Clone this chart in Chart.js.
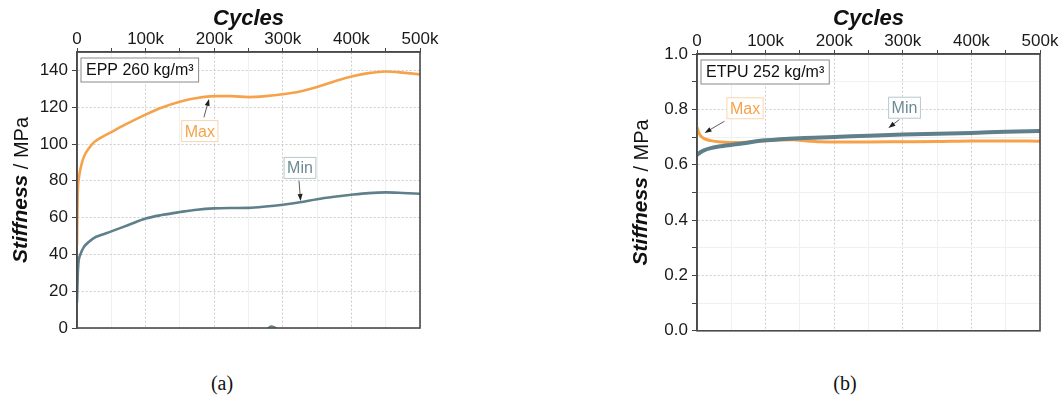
<!DOCTYPE html>
<html>
<head>
<meta charset="utf-8">
<script src="https://cdn.jsdelivr.net/npm/chart.js@4.4.1/dist/chart.umd.min.js"></script>
<style>
  body { margin: 0; background: #fff; width: 1063px; height: 400px; position: relative; overflow: hidden; }
  .box { position: absolute; top: 0; height: 345px; }
  #boxA { left: 0; width: 450px; }
  #boxB { left: 620px; width: 443px; }
  .cap { position: absolute; top: 372px; font: 20px "Liberation Serif", "Times New Roman", serif; color: #111; transform: translateX(-50%); }
</style>
</head>
<body>
<div class="box" id="boxA"><canvas id="chartA"></canvas></div>
<div class="box" id="boxB"><canvas id="chartB"></canvas></div>
<div class="cap" style="left:222px">(a)</div>
<div class="cap" style="left:845px">(b)</div>

<script>
// ------------------ DATA ------------------
// (a) EPP 260 kg/m³
const maxA_cycles = [0, 1000, 3000, 6000, 10000, 18000, 25000, 35000, 50000, 70000, 100000, 125000, 150000, 175000, 200000, 225000, 250000, 275000, 300000, 325000, 350000, 375000, 400000, 425000, 450000, 475000, 500000];
const maxA_stiff  = [45, 72, 82, 88, 93, 98, 101, 103.5, 106.5, 110.5, 116, 120, 123, 125, 126, 126, 125.5, 126, 127, 128.5, 131, 134, 136.7, 138.5, 139.4, 138.8, 137.8];
const minA_cycles = [0, 1000, 2000, 5000, 10000, 18000, 25000, 35000, 50000, 75000, 100000, 125000, 150000, 175000, 200000, 225000, 250000, 275000, 300000, 325000, 350000, 375000, 400000, 425000, 450000, 475000, 500000];
const minA_stiff  = [14, 28, 35, 40, 44, 47, 49, 50.5, 52.5, 56, 59.5, 61.5, 63, 64.3, 65, 65.2, 65.3, 66, 67, 68.3, 70, 71.3, 72.4, 73.3, 73.7, 73.4, 73];
const blipA_cycles = [279000, 283000, 290000];
const blipA_stiff  = [0, 1, 0];

// (b) ETPU 252 kg/m³
const maxB_cycles = [0, 2000, 5000, 10000, 20000, 35000, 60000, 100000, 140000, 160000, 180000, 200000, 250000, 300000, 350000, 400000, 450000, 500000];
const maxB_stiff  = [0.735, 0.72, 0.705, 0.695, 0.687, 0.682, 0.680, 0.687, 0.690, 0.686, 0.683, 0.682, 0.682, 0.683, 0.684, 0.686, 0.686, 0.685];
const minB_cycles = [0, 5000, 10000, 20000, 35000, 60000, 100000, 150000, 200000, 250000, 300000, 350000, 400000, 450000, 500000];
const minB_stiff  = [0.635, 0.645, 0.652, 0.66, 0.667, 0.675, 0.688, 0.696, 0.700, 0.705, 0.709, 0.712, 0.715, 0.719, 0.722];

const xTicks = [0, 100000, 200000, 300000, 400000, 500000];
const ORANGE = '#F6A24A';
const SLATE = '#5F808B';

const pts = (xs, ys) => xs.map((x, i) => ({ x: x, y: ys[i] }));

// ------------------ PLUGINS ------------------
const framePlugin = {
    id: 'frame',
    afterDraw(chart) {
        const { ctx, chartArea: a } = chart;
        ctx.save();
        ctx.strokeStyle = '#4a4a4a';
        ctx.lineWidth = 1.6;
        ctx.strokeRect(a.left, a.top, a.right - a.left, a.bottom - a.top);
        ctx.restore();
    }
};

const yTitlePlugin = {
    id: 'ytitle',
    afterDraw(chart) {
        const { ctx, chartArea: a } = chart;
        const cy = (a.top + a.bottom) / 2;
        const bold = 'italic bold 21px "Liberation Sans", Arial, sans-serif';
        const reg = '20px "Liberation Sans", Arial, sans-serif';
        ctx.save();
        ctx.translate(chart.options.yTitleX, cy);
        ctx.rotate(-Math.PI / 2);
        ctx.font = bold;
        const w1 = ctx.measureText('Stiffness').width;
        ctx.font = reg;
        const w2 = ctx.measureText(' / MPa').width;
        let x = -(w1 + w2) / 2;
        ctx.fillStyle = '#111';
        ctx.textBaseline = 'middle';
        ctx.font = bold;
        ctx.fillText('Stiffness', x, 0);
        ctx.font = reg;
        ctx.fillText(' / MPa', x + w1, 1);
        ctx.restore();
    }
};

function arrow(ctx, x1, y1, x2, y2) {
    const ang = Math.atan2(y2 - y1, x2 - x1);
    ctx.save();
    ctx.strokeStyle = '#333';
    ctx.fillStyle = '#222';
    ctx.lineWidth = 0.8;
    ctx.beginPath();
    ctx.moveTo(x1, y1);
    ctx.lineTo(x2 - 4 * Math.cos(ang), y2 - 4 * Math.sin(ang));
    ctx.stroke();
    ctx.beginPath();
    ctx.moveTo(x2, y2);
    ctx.lineTo(x2 - 7 * Math.cos(ang) + 2.5 * Math.sin(ang), y2 - 7 * Math.sin(ang) - 2.5 * Math.cos(ang));
    ctx.lineTo(x2 - 7 * Math.cos(ang) - 2.5 * Math.sin(ang), y2 - 7 * Math.sin(ang) + 2.5 * Math.cos(ang));
    ctx.closePath();
    ctx.fill();
    ctx.restore();
}

function textBox(ctx, text, cx, cy, color, border, font, padX, h) {
    ctx.save();
    ctx.font = font;
    const w = ctx.measureText(text).width + padX * 2;
    ctx.fillStyle = '#fff';
    ctx.fillRect(cx - w / 2, cy - h / 2, w, h);
    ctx.strokeStyle = border;
    ctx.lineWidth = 1;
    ctx.strokeRect(cx - w / 2, cy - h / 2, w, h);
    ctx.fillStyle = color;
    ctx.textAlign = 'center';
    ctx.textBaseline = 'middle';
    ctx.fillText(text, cx, cy + 1);
    ctx.restore();
}

const notePlugin = {
    id: 'notes',
    afterDraw(chart) {
        const { ctx, chartArea: a, scales: { x, y } } = chart;
        const n = chart.options.notes;
        const sans = '"Liberation Sans", Arial, sans-serif';
        // material label, top-left
        ctx.save();
        ctx.font = '16px ' + sans;
        const w = ctx.measureText(n.label).width + 10;
        ctx.fillStyle = '#fff';
        ctx.fillRect(a.left + 4, a.top + 6, w, 24);
        ctx.strokeStyle = '#8a8a8a';
        ctx.lineWidth = 1;
        ctx.strokeRect(a.left + 4, a.top + 6, w, 24);
        ctx.fillStyle = '#111';
        ctx.textBaseline = 'middle';
        ctx.fillText(n.label, a.left + 9, a.top + 19);
        ctx.restore();
        // Max / Min callouts
        n.callouts.forEach(c => {
            arrow(ctx, x.getPixelForValue(c.from[0]), y.getPixelForValue(c.from[1]),
                       x.getPixelForValue(c.to[0]), y.getPixelForValue(c.to[1]));
            textBox(ctx, c.text, x.getPixelForValue(c.at[0]), y.getPixelForValue(c.at[1]),
                    c.color, c.border, '16px ' + sans, 3, 21);
        });
    }
};

// ------------------ CHART ------------------
function makeChart(id, cfg) {
    const sans = '"Liberation Sans", Arial, sans-serif';
    return new Chart(document.getElementById(id), {
        type: 'line',
        data: { datasets: cfg.datasets },
        options: {
            responsive: true,
            maintainAspectRatio: false,
            animation: false,
            parsing: false,
            layout: { padding: cfg.padding },
            yTitleX: 21,
            notes: cfg.notes,
            plugins: { legend: { display: false }, tooltip: { enabled: false } },
            elements: { point: { radius: 0 }, line: { cubicInterpolationMode: 'monotone', borderJoinStyle: 'round', borderCapStyle: 'round' } },
            scales: {
                x: {
                    type: 'linear',
                    position: 'top',
                    min: 0,
                    max: 500000,
                    afterBuildTicks: s => { s.ticks = []; for (let v = 0; v <= 500000; v += 50000) s.ticks.push({ value: v }); },
                    ticks: {
                        autoSkip: false,
                        maxRotation: 0,
                        padding: -2,
                        color: '#1a1a1a',
                        font: { family: sans, size: 17 },
                        callback: v => xTicks.includes(v) ? (v === 0 ? '0' : (v / 1000) + 'k') : ''
                    },
                    grid: {
                        color: c => (c.tick && xTicks.includes(c.tick.value)) ? '#cdcdcd' : '#f0f0f0',
                        tickColor: '#444',
                        tickLength: 4
                    },
                    border: { display: true, color: '#4a4a4a', width: 1.6,
                              dash: c => (c.tick && xTicks.includes(c.tick.value)) ? [2, 2] : [] },
                    title: { display: true, text: 'Cycles', color: '#111',
                             font: { family: sans, size: 22, weight: 'bold', style: 'italic' },
                             padding: { top: 6, bottom: 0 } },
                    afterFit: s => { s.height = cfg.top; }
                },
                y: {
                    min: 0,
                    max: cfg.yMax,
                    ticks: {
                        stepSize: cfg.yStep,
                        padding: 4,
                        color: '#1a1a1a',
                        font: { family: sans, size: 17 },
                        callback: cfg.yLabel
                    },
                    grid: {
                        color: c => (c.tick && cfg.yMajor(c.tick.value)) ? '#cdcdcd' : '#f0f0f0',
                        tickColor: '#444',
                        tickLength: 5
                    },
                    border: { display: true, color: '#4a4a4a', width: 1.6,
                              dash: c => (c.tick && cfg.yMajor(c.tick.value)) ? [2, 2] : [] },
                    afterFit: s => { s.width = 77; }
                }
            }
        },
        plugins: [framePlugin, yTitlePlugin, notePlugin]
    });
}

makeChart('chartA', {
    top: 52,
    padding: { left: 0, right: 30, top: 0, bottom: 17 },
    yMax: 150,
    yStep: 10,
    yMajor: v => v % 20 === 0,
    yLabel: v => v % 20 === 0 ? String(v) : '',
    datasets: [
        { data: pts(minA_cycles, minA_stiff), borderColor: SLATE, borderWidth: 2.6 },
        { data: pts(blipA_cycles, blipA_stiff), borderColor: SLATE, borderWidth: 2 },
        { data: pts(maxA_cycles, maxA_stiff), borderColor: ORANGE, borderWidth: 2.6 }
    ],
    notes: {
        label: 'EPP 260 kg/m³',
        callouts: [
            { text: 'Max', at: [179000, 107], from: [185000, 114.5], to: [192500, 124.5], color: ORANGE, border: '#f8d6ad' },
            { text: 'Min', at: [325000, 87], from: [323600, 80], to: [326000, 69], color: '#6b8b95', border: '#b7c8cd' }
        ]
    }
});

makeChart('chartB', {
    top: 54,
    padding: { left: 0, right: 23, top: 0, bottom: 13 },
    yMax: 1.0,
    yStep: 0.1,
    yMajor: v => Math.round(v * 10) % 2 === 0,
    yLabel: v => Math.round(v * 10) % 2 === 0 ? v.toFixed(1) : '',
    datasets: [
        { data: pts(minB_cycles, minB_stiff), borderColor: SLATE, borderWidth: 4 },
        { data: pts(maxB_cycles, maxB_stiff), borderColor: ORANGE, borderWidth: 3 }
    ],
    notes: {
        label: 'ETPU 252 kg/m³',
        callouts: [
            { text: 'Max', at: [70000, 0.804], from: [40000, 0.757], to: [11000, 0.715], color: ORANGE, border: '#f8d6ad' },
            { text: 'Min', at: [302500, 0.806], from: [295000, 0.763], to: [279000, 0.733], color: '#6b8b95', border: '#b7c8cd' }
        ]
    }
});
</script>
</body>
</html>
